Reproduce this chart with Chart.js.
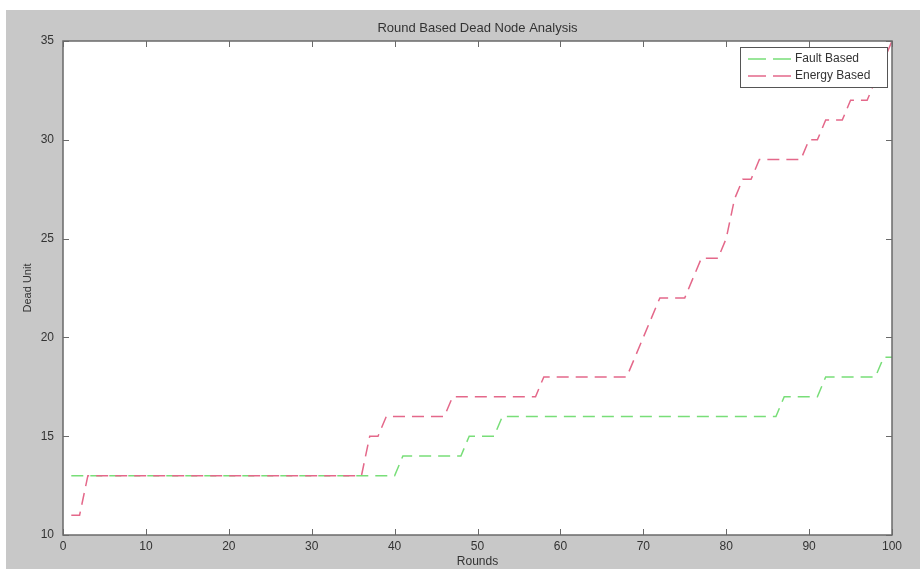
<!DOCTYPE html>
<html>
<head>
<meta charset="utf-8">
<script src="https://cdn.jsdelivr.net/npm/chart.js@4.4.0/dist/chart.umd.min.js"></script>
<style>
  html, body { margin: 0; padding: 0; background: #fff; }
  #wrap { width: 920px; height: 569px; }
</style>
</head>
<body>
<div id="wrap"><canvas id="deadChart" width="920" height="569"></canvas></div>
<script>
// Round Based Dead Node Analysis

const rounds = [
    1, 2, 3, 4, 5, 6, 7, 8, 9, 10,
    11, 12, 13, 14, 15, 16, 17, 18, 19, 20,
    21, 22, 23, 24, 25, 26, 27, 28, 29, 30,
    31, 32, 33, 34, 35, 36, 37, 38, 39, 40,
    41, 42, 43, 44, 45, 46, 47, 48, 49, 50,
    51, 52, 53, 54, 55, 56, 57, 58, 59, 60,
    61, 62, 63, 64, 65, 66, 67, 68, 69, 70,
    71, 72, 73, 74, 75, 76, 77, 78, 79, 80,
    81, 82, 83, 84, 85, 86, 87, 88, 89, 90,
    91, 92, 93, 94, 95, 96, 97, 98, 99, 100
];

const faultBased = [
    13, 13, 13, 13, 13, 13, 13, 13, 13, 13,
    13, 13, 13, 13, 13, 13, 13, 13, 13, 13,
    13, 13, 13, 13, 13, 13, 13, 13, 13, 13,
    13, 13, 13, 13, 13, 13, 13, 13, 13, 13,
    14, 14, 14, 14, 14, 14, 14, 14, 15, 15,
    15, 15, 16, 16, 16, 16, 16, 16, 16, 16,
    16, 16, 16, 16, 16, 16, 16, 16, 16, 16,
    16, 16, 16, 16, 16, 16, 16, 16, 16, 16,
    16, 16, 16, 16, 16, 16, 17, 17, 17, 17,
    17, 18, 18, 18, 18, 18, 18, 18, 19, 19
];

const energyBased = [
    11, 11, 13, 13, 13, 13, 13, 13, 13, 13,
    13, 13, 13, 13, 13, 13, 13, 13, 13, 13,
    13, 13, 13, 13, 13, 13, 13, 13, 13, 13,
    13, 13, 13, 13, 13, 13, 15, 15, 16, 16,
    16, 16, 16, 16, 16, 16, 17, 17, 17, 17,
    17, 17, 17, 17, 17, 17, 17, 18, 18, 18,
    18, 18, 18, 18, 18, 18, 18, 18, 19, 20,
    21, 22, 22, 22, 22, 23, 24, 24, 24, 25,
    27, 28, 28, 29, 29, 29, 29, 29, 29, 30,
    30, 31, 31, 31, 32, 32, 32, 33, 34, 35
];

const xTicks = [0, 10, 20, 30, 40, 50, 60, 70, 80, 90, 100];
const yTicks = [10, 15, 20, 25, 30, 35];
const seriesNames = ['Fault Based', 'Energy Based'];
const seriesColors = ['#78de78', '#e4688a'];

const FONT = 'Arial, "Liberation Sans", Helvetica, sans-serif';
const TEXT = '#333333';
const DASH = [12, 7];

// gray figure, white axes, inward ticks and a boxed legend like the original plot
const matlabFrame = {
    id: 'matlabFrame',
    beforeDraw(chart) {
        const { ctx, chartArea: a } = chart;
        ctx.save();
        ctx.fillStyle = '#ffffff';
        ctx.fillRect(0, 0, chart.width, chart.height);
        ctx.fillStyle = '#c8c8c8';
        ctx.fillRect(6, 10, chart.width - 6, chart.height - 10);
        ctx.fillStyle = '#ffffff';
        ctx.fillRect(a.left, a.top, a.width, a.height);
        ctx.restore();
    },
    afterDraw(chart) {
        const { ctx, chartArea: a, scales } = chart;
        ctx.save();
        ctx.strokeStyle = '#6a6a6a';
        ctx.lineWidth = 1.5;
        ctx.strokeRect(a.left, a.top, a.width, a.height);

        ctx.lineWidth = 1;
        ctx.beginPath();
        xTicks.forEach(v => {
            const px = Math.round(scales.x.getPixelForValue(v)) + 0.5;
            ctx.moveTo(px, a.bottom); ctx.lineTo(px, a.bottom - 6);
            ctx.moveTo(px, a.top); ctx.lineTo(px, a.top + 6);
        });
        yTicks.forEach(v => {
            const py = Math.round(scales.y.getPixelForValue(v)) + 0.5;
            ctx.moveTo(a.left, py); ctx.lineTo(a.left + 6, py);
            ctx.moveTo(a.right, py); ctx.lineTo(a.right - 6, py);
        });
        ctx.stroke();

        // legend
        const boxW = 147, boxH = 40;
        const bx = a.right - 152, by = a.top + 6;
        ctx.fillStyle = '#ffffff';
        ctx.fillRect(bx, by, boxW, boxH);
        ctx.strokeStyle = '#555555';
        ctx.lineWidth = 1;
        ctx.strokeRect(bx + 0.5, by + 0.5, boxW, boxH);
        ctx.font = '12px ' + FONT;
        ctx.textBaseline = 'middle';
        ctx.textAlign = 'left';
        seriesNames.forEach((name, i) => {
            const ly = by + 12 + i * 17;
            ctx.strokeStyle = seriesColors[i];
            ctx.lineWidth = 1.5;
            ctx.setLineDash([18, 7]);
            ctx.beginPath();
            ctx.moveTo(bx + 8, ly);
            ctx.lineTo(bx + 51, ly);
            ctx.stroke();
            ctx.setLineDash([]);
            ctx.fillStyle = TEXT;
            ctx.fillText(name, bx + 55, ly);
        });
        ctx.restore();
    }
};

new Chart(document.getElementById('deadChart'), {
    type: 'line',
    data: {
        datasets: [{
            label: seriesNames[0],
            data: faultBased.map((v, i) => ({ x: rounds[i], y: v })),
            borderColor: seriesColors[0],
            borderDash: DASH,
            borderWidth: 1.5,
            pointRadius: 0,
            fill: false,
            tension: 0,
            order: 1
        }, {
            label: seriesNames[1],
            data: energyBased.map((v, i) => ({ x: rounds[i], y: v })),
            borderColor: seriesColors[1],
            borderDash: DASH,
            borderWidth: 1.5,
            pointRadius: 0,
            fill: false,
            tension: 0,
            order: 0
        }]
    },
    options: {
        responsive: false,
        animation: false,
        layout: { padding: { left: 6, right: 28, top: 0, bottom: 0 } },
        plugins: {
            legend: { display: false },
            tooltip: { enabled: false },
            title: {
                display: true,
                fullSize: false,
                text: 'Round Based Dead Node Analysis',
                color: TEXT,
                font: { family: FONT, size: 13, weight: 'normal' },
                padding: { top: 21, bottom: 4.4 }
            }
        },
        scales: {
            x: {
                type: 'linear',
                min: 0,
                max: 100,
                afterFit(scale) { scale.height = 34; },
                afterBuildTicks(scale) { scale.ticks = xTicks.map(v => ({ value: v })); },
                grid: { display: false, drawTicks: false },
                border: { display: false },
                ticks: {
                    color: TEXT,
                    font: { family: FONT, size: 12 },
                    padding: 4,
                    maxRotation: 0,
                    autoSkip: false
                },
                title: {
                    display: true,
                    text: 'Rounds',
                    color: TEXT,
                    font: { family: FONT, size: 12 },
                    padding: { top: 0, bottom: 0 }
                }
            },
            y: {
                min: 10,
                max: 35,
                afterFit(scale) { scale.width = 57; },
                afterBuildTicks(scale) { scale.ticks = yTicks.map(v => ({ value: v })); },
                grid: { display: false, drawTicks: false },
                border: { display: false },
                ticks: {
                    color: TEXT,
                    font: { family: FONT, size: 12 },
                    padding: 9
                },
                title: {
                    display: true,
                    text: 'Dead Unit',
                    color: TEXT,
                    font: { family: FONT, size: 11 },
                    padding: { top: 15, bottom: 0 }
                }
            }
        }
    },
    plugins: [matlabFrame]
});
</script>
</body>
</html>
